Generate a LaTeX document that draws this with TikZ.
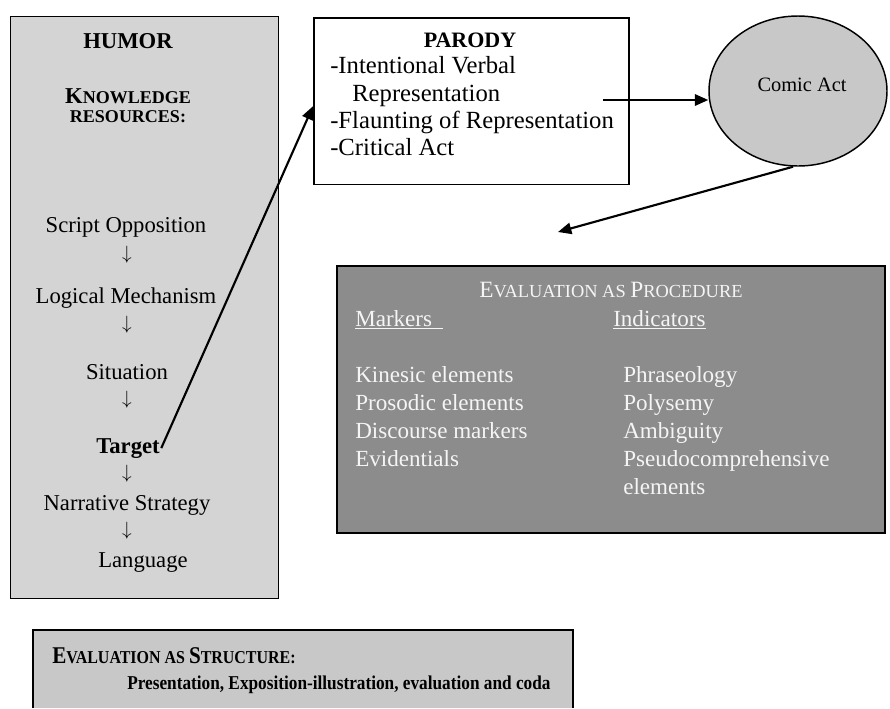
\documentclass[tikz,border=0pt]{standalone}
\usepackage{fontspec}
\setmainfont{Liberation Serif}
\newfontfamily\narrowserif[FakeStretch=0.88]{Liberation Serif}
\usetikzlibrary{arrows.meta,shapes.geometric}
\definecolor{humorgray}{RGB}{212,212,212}
\definecolor{comicgray}{RGB}{200,200,200}
\definecolor{procgray}{RGB}{140,140,140}
\definecolor{structgray}{RGB}{200,200,200}
\definecolor{proctext}{RGB}{245,245,245}
\newcommand{\setsz}[1]{\fontsize{#1}{#1}\selectfont}

\begin{document}
\begin{tikzpicture}[x=0.75pt,y=-0.75pt,
  box/.style={draw,line width=1.3pt,inner sep=0pt,anchor=north west},
  item/.style={anchor=base,inner sep=1pt,font=\setsz{17}},
  dnarrow/.style={inner sep=0pt,font=\setsz{15}},
  ptext/.style={anchor=base west,inner sep=0pt,font=\setsz{18.5}},
  etext/.style={anchor=base west,inner sep=0pt,text=proctext,font=\setsz{17.3}},
  conn/.style={line width=1.6pt,-{Triangle[length=10pt,width=8.5pt]}}]
  \useasboundingbox (0,0) rectangle (890,708);
  % Humor
  \node[box,fill=humorgray,line width=1.1pt,minimum width=201pt,minimum height=436.5pt] (humor) at (10,16) {};
  \node[item,font=\setsz{17}\bfseries] (humortitle) at (128,48) {HUMOR};
  \node[item,font=\bfseries] (know) at (128,103) {{\setsz{17}K}{\setsz{13.5}NOWLEDGE}};
  \node[item,font=\setsz{13.5}\bfseries] (res) at (128,122) {RESOURCES:};
  \node[item] (script) at (126,232) {Script Opposition};
  \node[dnarrow] (d1) at (127,255) {$\downarrow$};
  \node[item] (logic) at (126,303) {Logical Mechanism};
  \node[dnarrow] (d2) at (127,325) {$\downarrow$};
  \node[item] (situation) at (127,379) {Situation};
  \node[dnarrow] (d3) at (127,400) {$\downarrow$};
  \node[item,font=\setsz{17}\bfseries] (target) at (128,453) {Target};
  \node[dnarrow] (d4) at (127,474) {$\downarrow$};
  \node[item] (narrative) at (127,510) {Narrative Strategy};
  \node[dnarrow] (d5) at (127,531) {$\downarrow$};
  \node[item] (language) at (143,567) {Language};
  % Parody
  \node[box,fill=white,minimum width=236.25pt,minimum height=125pt] (parody) at (313,17) {};
  \node[item,font=\setsz{16.5}\bfseries] (parodytitle) at (470,47) {PARODY};
  \node[ptext] (p1) at (330,73) {-Intentional Verbal};
  \node[ptext] (p2) at (352,101) {Representation};
  \node[ptext] (p3) at (330,128) {-Flaunting of Representation};
  \node[ptext] (p4) at (330,155) {-Critical Act};
  % Comic act
  \node[ellipse,draw,fill=comicgray,line width=1.1pt,minimum width=133.5pt,minimum height=112.5pt] (comic) at (798,91) {};
  \node[item,font=\setsz{15.3}] (comictext) at (802,91) {Comic Act};
  % Evaluation as procedure
  \node[box,fill=procgray,minimum width=411pt,minimum height=200.25pt] (proc) at (336,265) {};
  \node[item,text=proctext] (proctitle) at (611,297)
    {{\setsz{17.5}E}{\setsz{13.8}VALUATION AS }{\setsz{17.5}P}{\setsz{13.8}ROCEDURE}};
  \node[etext] (markers) at (355,326) {\underline{Markers\hspace{8pt}}};
  \node[etext] (indicators) at (613,326) {\underline{Indicators}};
  \foreach \t [count=\i] in {Kinesic elements,Prosodic elements,Discourse markers,Evidentials}
    \node[etext] (mk\i) at (355,354+28*\i) {\t};
  \foreach \t [count=\i] in {Phraseology,Polysemy,Ambiguity,Pseudocomprehensive,elements}
    \node[etext] (ind\i) at (623,354+28*\i) {\t};
  % Evaluation as structure
  \fill[structgray] (33,630) rectangle (573,708);
  \draw[line width=1.3pt] (33,708) -- (33,630) -- (573,630) -- (573,708);
  \node[anchor=base west,inner sep=0pt,font=\narrowserif\bfseries] (structtitle) at (52,663)
    {{\setsz{18}E}{\setsz{13.6}VALUATION AS }{\setsz{18}S}{\setsz{13.6}TRUCTURE:}};
  \node[anchor=base west,inner sep=0pt,font=\narrowserif\bfseries\setsz{14.7}] (structtext) at (127,689)
    {Presentation, Exposition-illustration, evaluation and coda};
  % connectors
  \coordinate (pout) at (603,100);
  \coordinate (procin) at (558,232);
  \draw[conn] (target.east) -- ([yshift=-3.75pt]parody.west);
  \draw[conn] (pout) -- (pout -| comic.west);
  \draw[conn] ([xshift=-3.75pt]comic.south) -- (procin);
\end{tikzpicture}
\end{document}
